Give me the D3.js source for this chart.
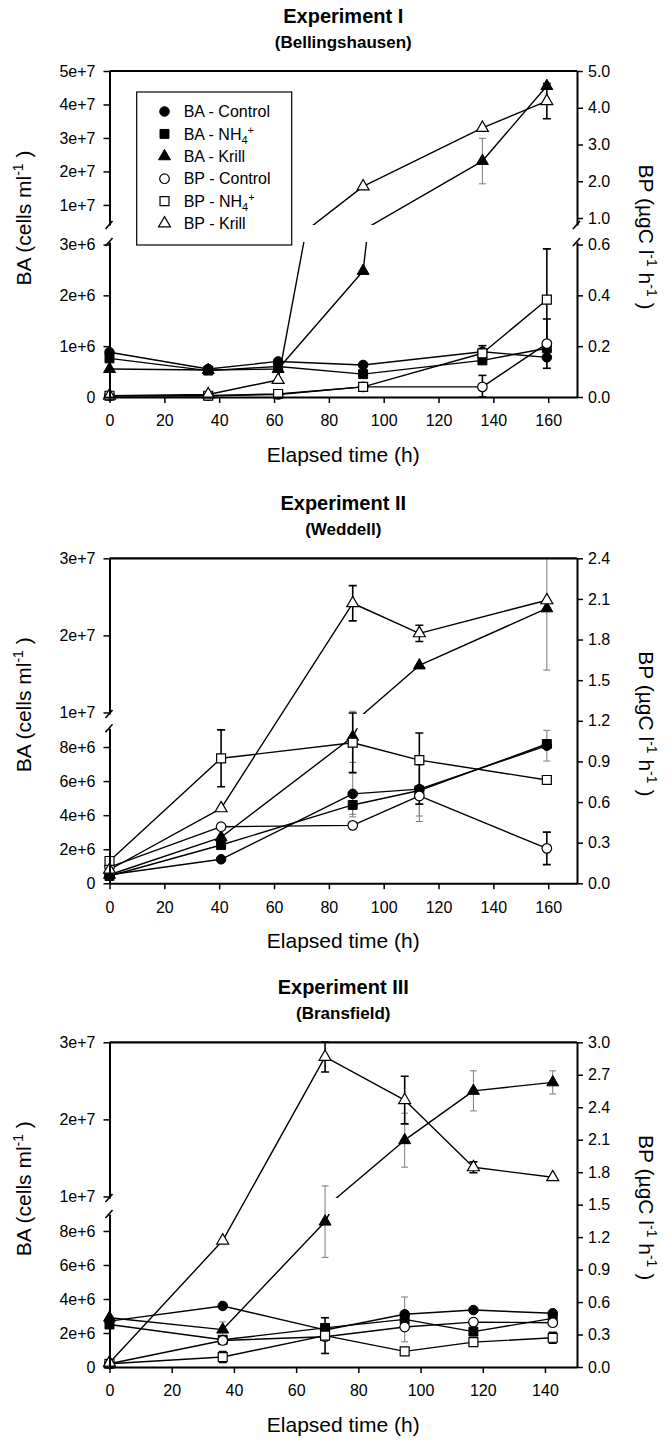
<!DOCTYPE html>
<html><head><meta charset="utf-8">
<script src="https://cdn.jsdelivr.net/npm/d3@7"></script>
<style>
body{margin:0;background:#fff}
svg{display:block}
text{font-family:"Liberation Sans",Arial,Helvetica,sans-serif;fill:#000}
</style>
</head><body>
<svg id="c" width="668" height="1447"></svg>
<script>
// ---------- data ----------
const titles = ["Experiment I", "Experiment II", "Experiment III"];
const subtitles = ["(Bellingshausen)", "(Weddell)", "(Bransfield)"];
const seriesNames = ["BA - Control", "BA - NH4+", "BA - Krill", "BP - Control", "BP - NH4+", "BP - Krill"];

const xTicks12 = [0, 20, 40, 60, 80, 100, 120, 140, 160];
const xTicks3 = [0, 20, 40, 60, 80, 100, 120, 140];
const baTicksUpper1 = [1e7, 2e7, 3e7, 4e7, 5e7];
const baTicksLower1 = [0, 1e6, 2e6, 3e6];
const bpTicksUpper1 = [1, 2, 3, 4, 5];
const bpTicksLower1 = [0, 0.2, 0.4, 0.6];
const baTicksUpper23 = [1e7, 2e7, 3e7];
const baTicksLower23 = [0, 2e6, 4e6, 6e6, 8e6];
const bpTicks2 = [0, 0.3, 0.6, 0.9, 1.2, 1.5, 1.8, 2.1, 2.4];
const bpTicks3 = [0, 0.3, 0.6, 0.9, 1.2, 1.5, 1.8, 2.1, 2.4, 2.7, 3.0];

// Experiment I
const time1 = [0, 36, 61.5, 92.5, 136, 159.5];
const baControl1 = [8.8e5, 5.5e5, 7.0e5, 6.3e5, 8.9e5, 7.8e5];
const baNH4_1 = [7.6e5, 5.2e5, 6.0e5, 4.5e5, 7.2e5, 9.6e5];
const baKrill1 = [5.5e5, 5.3e5, 5.5e5, 2.48e6, 2.31e7, 4.55e7];
const bpControl1 = [0.005, 0.005, 0.01, 0.04, 0.04, 0.21];
const bpNH4_1 = [0.005, 0.005, 0.012, 0.04, 0.172, 0.383];
const bpKrill1 = [0.005, 0.01, 0.067, 1.86, 3.45, 4.18];
const baControlErr1 = [0, 0, 0, 0, 0, 2.2e5];
const baNH4Err1 = [0, 0, 0, 0, 0, 0];
const baKrillErr1 = [0, 0, 0, 0, 6.8e6, 0];
const bpControlErr1 = [0, 0, 0, 0, 0.045, 0.097];
const bpNH4Err1 = [0, 0, 0, 0, 0.03, 0.2];
const bpKrillErr1 = [0, 0, 0, 0, 0, 0.48];

// Experiment II
const time2 = [0, 40.7, 88.7, 113, 159.5];
const baControl2 = [5.0e5, 1.41e6, 5.25e6, 5.53e6, 8.08e6];
const baNH4_2 = [4.3e5, 2.25e6, 4.6e6, 5.45e6, 8.18e6];
const baKrill2 = [5.0e5, 2.7e6, 8.6e6, 1.61e7, 2.35e7];
const bpControl2 = [0.12, 0.418, 0.428, 0.645, 0.258];
const bpNH4_2 = [0.165, 0.923, 1.038, 0.91, 0.763];
const bpKrill2 = [0.10, 0.554, 2.068, 1.846, 2.09];
const baControlErr2 = [0, 0, 1.2e6, 1.9e6, 0.9e6];
const baNH4Err2 = [0, 0.2e6, 0.7e6, 1.5e6, 0];
const baKrillErr2 = [0, 0, 1.5e6, 0, 8e6];
const bpControlErr2 = [0, 0, 0, 0.06, 0.12];
const bpNH4Err2 = [0, 0.21, 0.22, 0.2, 0];
const bpKrillErr2 = [0, 0, 0.13, 0.06, 0];

// Experiment III
const time3 = [0, 36.4, 69.3, 94.9, 117, 142.5];
const baControl3 = [2.7e6, 3.59e6, 2.18e6, 3.1e6, 3.35e6, 3.16e6];
const baNH4_3 = [2.5e6, 1.6e6, 2.3e6, 2.8e6, 2.08e6, 2.86e6];
const baKrill3 = [2.9e6, 2.2e6, 8.55e6, 1.73e7, 2.37e7, 2.48e7];
const bpControl3 = [0.03, 0.245, 0.28, 0.369, 0.415, 0.409];
const bpNH4_3 = [0.03, 0.092, 0.29, 0.144, 0.23, 0.27];
const bpKrill3 = [0.04, 1.168, 2.865, 2.466, 1.845, 1.753];
const baControlErr3 = [0, 0, 0, 0, 0, 0];
const baNH4Err3 = [0, 0, 0, 1.32e6, 0.2e6, 0];
const baKrillErr3 = [0, 0.45e6, 2.1e6, 3.5e6, 2.6e6, 1.5e6];
const bpControlErr3 = [0, 0, 0, 0, 0, 0];
const bpNH4Err3 = [0, 0.05, 0.165, 0, 0, 0.05];
const bpKrillErr3 = [0, 0, 0.14, 0.22, 0.05, 0];

// ---------- layout ----------
const XL = 109.5, XR = 577;
const panels = [
  { title: titles[0], sub: subtitles[0], top: 71, bottom: 397, xDomain: [0, 170.5], xTicks: xTicks12, x: time1,
    ba: [baControl1, baNH4_1, baKrill1], baErr: [baControlErr1, baNH4Err1, baKrillErr1],
    bp: [bpControl1, bpNH4_1, bpKrill1], bpErr: [bpControlErr1, bpNH4Err1, bpKrillErr1],
    left: [{domain: [0, 3.05e6], range: [397, 242], ticks: baTicksLower1},
           {domain: [0.4e7, 5e7], range: [225, 71], ticks: baTicksUpper1}],
    right: [{domain: [0, 0.61], range: [397, 242], ticks: bpTicksLower1},
            {domain: [0.81, 5], range: [225, 71], ticks: bpTicksUpper1}],
    legend: true },
  { title: titles[1], sub: subtitles[1], top: 558.3, bottom: 883.3, xDomain: [0, 170.5], xTicks: xTicks12, x: time2,
    ba: [baControl2, baNH4_2, baKrill2], baErr: [baControlErr2, baNH4Err2, baKrillErr2],
    bp: [bpControl2, bpNH4_2, bpKrill2], bpErr: [bpControlErr2, bpNH4Err2, bpKrillErr2],
    left: [{domain: [0, 9.1e6], range: [883.3, 728.3], ticks: baTicksLower23},
           {domain: [0.98e7, 3e7], range: [714, 558.3], ticks: baTicksUpper23}],
    right: [{domain: [0, 2.4], range: [883.3, 558.3], ticks: bpTicks2}],
    legend: false },
  { title: titles[2], sub: subtitles[2], top: 1042.3, bottom: 1367, xDomain: [0, 150.3], xTicks: xTicks3, x: time3,
    ba: [baControl3, baNH4_3, baKrill3], baErr: [baControlErr3, baNH4Err3, baKrillErr3],
    bp: [bpControl3, bpNH4_3, bpKrill3], bpErr: [bpControlErr3, bpNH4Err3, bpKrillErr3],
    left: [{domain: [0, 9.0e6], range: [1367, 1214], ticks: baTicksLower23},
           {domain: [0.98e7, 3e7], range: [1198, 1042.3], ticks: baTicksUpper23}],
    right: [{domain: [0, 3.0], range: [1367, 1042.3], ticks: bpTicks3}],
    legend: false }
];

const symTypes = [d3.symbolCircle, d3.symbolSquare, d3.symbolTriangle];
const symSizes = [72, 80, 62];
const FONT = '"Liberation Sans",Arial,Helvetica,sans-serif';

function baFmt(v) {
  if (v === 0) return "0";
  const e = Math.floor(Math.log10(v) + 1e-9);
  const m = Math.round(v / Math.pow(10, e));
  return m + "e+" + e;
}
const bpFmt = d3.format(".1f");

const svg = d3.select("#c");
const defs = svg.append("defs");

function findSeg(segs, v) {
  for (const s of segs) if (v >= s.domain[0] - 1e-12 && v <= s.domain[1]) return s;
  return v > segs[segs.length - 1].domain[1] ? segs[segs.length - 1] : segs[0];
}

function styleAxis(sel) {
  sel.attr("font-family", FONT).attr("font-size", 16);
  sel.select(".domain").attr("stroke-width", 2).attr("stroke", "#000");
  sel.selectAll(".tick line").attr("stroke-width", 1.5).attr("stroke", "#000");
  sel.selectAll(".tick text").attr("fill", "#000");
}

panels.forEach((p, pi) => {
  const g = svg.append("g");
  const xs = d3.scaleLinear().domain(p.xDomain).range([XL, XR]);
  const mk = segs => segs.map(s => Object.assign({}, s, {scale: d3.scaleLinear().domain(s.domain).range(s.range)}));
  const L = mk(p.left), R = mk(p.right);

  const addClip = (segs, side) => segs.forEach((s, i) => {
    const id = "clip" + pi + side + i;
    s.clip = id;
    const top = s.range[1] - (i === segs.length - 1 ? 8 : 0);
    const bot = s.range[0] + (i === 0 ? 8 : 0);
    defs.append("clipPath").attr("id", id).append("rect")
      .attr("x", XL - 12).attr("y", top).attr("width", XR - XL + 24).attr("height", bot - top);
  });
  addClip(L, "L"); addClip(R, "R");
  const frameId = "frame" + pi;
  defs.append("clipPath").attr("id", frameId).append("rect")
    .attr("x", XL - 12).attr("y", p.top - 1).attr("width", XR - XL + 24).attr("height", p.bottom - p.top + 12);

  // titles
  const cx = (XL + XR) / 2;
  g.append("text").attr("x", cx).attr("y", p.top - 48.5).attr("text-anchor", "middle")
    .attr("font-size", 20).attr("font-weight", "bold").text(p.title);
  g.append("text").attr("x", cx).attr("y", p.top - 23).attr("text-anchor", "middle")
    .attr("font-size", 17).attr("font-weight", "bold").text(p.sub);

  // series definitions
  const series = [];
  p.ba.forEach((vals, k) => series.push({vals, err: p.baErr[k], segs: L, type: k, filled: true}));
  p.bp.forEach((vals, k) => series.push({vals, err: p.bpErr[k], segs: R, type: k, filled: false}));

  // lines (drawn in every segment, clipped to that segment)
  series.forEach(s => {
    s.segs.forEach(seg => {
      const line = d3.line().x((d, i) => xs(p.x[i])).y(d => seg.scale(d));
      g.append("path").attr("d", line(s.vals)).attr("clip-path", "url(#" + seg.clip + ")")
        .attr("fill", "none").attr("stroke", "#000").attr("stroke-width", 1.4).attr("stroke-linejoin", "round");
    });
  });

  // error bars
  const eg = g.append("g").attr("clip-path", "url(#" + frameId + ")");
  series.forEach(s => {
    s.vals.forEach((v, i) => {
      const e = s.err[i];
      if (!e) return;
      const seg = findSeg(s.segs, v);
      const x = xs(p.x[i]);
      const y1 = seg.scale(v + e), y2 = seg.scale(Math.max(0, v - e));
      const col = s.filled ? "#7a7a7a" : "#000";
      const w = s.filled ? 1 : 1.6;
      const cw = s.filled ? 3.5 : 4;
      eg.append("line").attr("x1", x).attr("x2", x).attr("y1", y1).attr("y2", y2).attr("stroke", col).attr("stroke-width", w);
      [y1, y2].forEach(yy => eg.append("line").attr("x1", x - cw).attr("x2", x + cw).attr("y1", yy).attr("y2", yy)
        .attr("stroke", col).attr("stroke-width", w));
    });
  });

  // markers
  series.forEach(s => {
    const sym = d3.symbol().type(symTypes[s.type]).size(symSizes[s.type])();
    s.vals.forEach((v, i) => {
      const seg = findSeg(s.segs, v);
      g.append("path").attr("d", sym)
        .attr("transform", "translate(" + xs(p.x[i]) + "," + seg.scale(v) + ")")
        .attr("fill", s.filled ? "#000" : "#fff").attr("stroke", "#000").attr("stroke-width", s.filled ? 1 : 1.2);
    });
  });

  // frame: top line
  g.append("line").attr("x1", XL).attr("x2", XR).attr("y1", p.top).attr("y2", p.top)
    .attr("stroke", "#000").attr("stroke-width", 2.2);

  // axes
  g.append("g").attr("transform", "translate(0," + p.bottom + ")")
    .call(d3.axisBottom(xs).tickValues(p.xTicks).tickSize(6).tickSizeOuter(0).tickPadding(12).tickFormat(d3.format("d")))
    .call(styleAxis);
  L.forEach(seg => {
    g.append("g").attr("transform", "translate(" + XL + ",0)")
      .call(d3.axisLeft(seg.scale).tickValues(seg.ticks).tickSize(6).tickSizeOuter(0).tickPadding(8).tickFormat(baFmt))
      .call(styleAxis);
  });
  R.forEach(seg => {
    g.append("g").attr("transform", "translate(" + XR + ",0)")
      .call(d3.axisRight(seg.scale).tickValues(seg.ticks).tickSize(6).tickSizeOuter(0).tickPadding(5).tickFormat(bpFmt))
      .call(styleAxis);
  });

  // break marks
  const brk = (x, y) => g.append("line").attr("x1", x - 4).attr("y1", y + 4).attr("x2", x + 3).attr("y2", y - 4)
    .attr("stroke", "#000").attr("stroke-width", 1.6);
  const addBreaks = (segs, x) => {
    if (segs.length < 2) return;
    for (let i = 0; i < segs.length - 1; i++) {
      brk(x, segs[i].range[1]);
      brk(x, segs[i + 1].range[0]);
    }
  };
  addBreaks(L, XL); addBreaks(R, XR);

  // axis titles
  g.append("text").attr("x", cx).attr("y", p.bottom + 65).attr("text-anchor", "middle")
    .attr("font-size", 21).text("Elapsed time (h)");
  const midY = (p.top + p.bottom) / 2;
  const lt = g.append("text").attr("transform", "translate(31," + (midY - 16) + ") rotate(-90)")
    .attr("text-anchor", "middle").attr("font-size", 21);
  lt.append("tspan").text("BA (cells ml");
  lt.append("tspan").attr("dy", -8).attr("font-size", 14).text("-1");
  lt.append("tspan").attr("dy", 8).text(" )");
  const rt = g.append("text").attr("transform", "translate(639," + (midY + 3) + ") rotate(90)")
    .attr("text-anchor", "middle").attr("font-size", 21);
  rt.append("tspan").text("BP (\u00b5gC l");
  rt.append("tspan").attr("dy", -8).attr("font-size", 14).text("-1");
  rt.append("tspan").attr("dy", 8).text(" h");
  rt.append("tspan").attr("dy", -8).attr("font-size", 14).text("-1");
  rt.append("tspan").attr("dy", 8).text(" )");

  // legend
  if (p.legend) {
    const lg = g.append("g");
    lg.append("rect").attr("x", 136.7).attr("y", 92).attr("width", 155).attr("height", 153)
      .attr("fill", "#fff").attr("stroke", "#000").attr("stroke-width", 1.2);
    const rowY = d3.scaleLinear().domain([0, 5]).range([111.5, 223.5]);
    seriesNames.forEach((name, k) => {
      const type = k % 3, filled = k < 3;
      const y = rowY(k);
      lg.append("path").attr("d", d3.symbol().type(symTypes[type]).size(symSizes[type])())
        .attr("transform", "translate(164.5," + y + ")")
        .attr("fill", filled ? "#000" : "#fff").attr("stroke", "#000").attr("stroke-width", filled ? 1 : 1.2);
      const t = lg.append("text").attr("x", 183.7).attr("y", y + 5.7).attr("font-size", 16);
      if (name.indexOf("NH4+") >= 0) {
        t.append("tspan").text(name.replace("NH4+", "NH"));
        t.append("tspan").attr("dy", 4).attr("font-size", 11).text("4");
        t.append("tspan").attr("dy", -10).attr("font-size", 11).text("+");
      } else {
        t.text(name);
      }
    });
  }
});
</script>
</body></html>
